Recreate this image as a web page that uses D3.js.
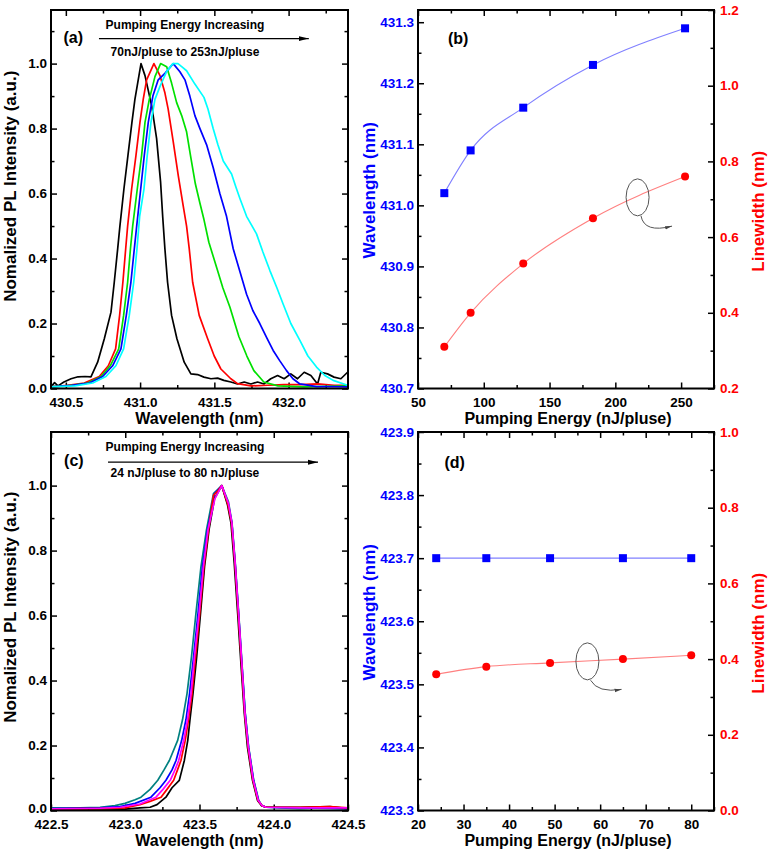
<!DOCTYPE html>
<html><head><meta charset="utf-8">
<script src="https://cdn.jsdelivr.net/npm/d3@7/dist/d3.min.js"></script>
<style>
body{margin:0;background:#fff;}
svg{display:block;}
</style></head><body>
<script>
// ---------------- DATA ----------------
// Panel (a): spectra [wavelength nm, normalized intensity]
const aBlack = [[430.400,0.005],[430.424,0.018],[430.447,0.008],[430.487,0.020],[430.535,0.030],[430.582,0.036],[430.629,0.037],[430.669,0.036],[430.714,0.081],[430.759,0.153],[430.804,0.235],[430.826,0.327],[430.849,0.430],[430.864,0.500],[430.891,0.614],[430.918,0.717],[430.945,0.819],[430.965,0.890],[431.006,1.000],[431.033,0.963],[431.078,0.870],[431.111,0.770],[431.138,0.635],[431.152,0.530],[431.167,0.430],[431.185,0.327],[431.212,0.225],[431.248,0.153],[431.297,0.081],[431.342,0.045],[431.387,0.043],[431.430,0.035],[431.477,0.030],[431.522,0.032],[431.564,0.025],[431.611,0.020],[431.656,0.014],[431.701,0.020],[431.746,0.014],[431.791,0.020],[431.835,0.014],[431.880,0.030],[431.926,0.040],[431.970,0.030],[432.015,0.045],[432.060,0.030],[432.105,0.050],[432.150,0.040],[432.195,0.014],[432.217,0.050],[432.262,0.045],[432.306,0.035],[432.352,0.030],[432.397,0.050]];
const aRed = [[430.400,0.005],[430.512,0.010],[430.624,0.017],[430.725,0.037],[430.786,0.070],[430.835,0.122],[430.862,0.225],[430.884,0.327],[430.903,0.430],[430.916,0.500],[430.943,0.614],[430.972,0.717],[430.999,0.819],[431.021,0.890],[431.044,0.950],[431.093,1.000],[431.134,0.963],[431.167,0.910],[431.189,0.860],[431.223,0.760],[431.257,0.655],[431.290,0.563],[431.313,0.500],[431.331,0.430],[431.354,0.327],[431.398,0.225],[431.455,0.153],[431.499,0.100],[431.544,0.060],[431.611,0.030],[431.656,0.015],[431.746,0.008],[431.860,0.010],[431.968,0.012],[432.082,0.012],[432.195,0.014],[432.306,0.010],[432.397,0.010]];
const aGreen = [[430.400,0.005],[430.535,0.010],[430.647,0.017],[430.737,0.037],[430.799,0.070],[430.856,0.122],[430.889,0.225],[430.916,0.327],[430.935,0.430],[430.950,0.500],[430.981,0.614],[431.010,0.717],[431.033,0.819],[431.062,0.890],[431.100,0.960],[431.138,1.000],[431.179,0.990],[431.212,0.940],[431.246,0.880],[431.280,0.840],[431.313,0.790],[431.342,0.710],[431.372,0.630],[431.403,0.570],[431.430,0.520],[431.463,0.450],[431.490,0.410],[431.517,0.370],[431.557,0.310],[431.605,0.250],[431.665,0.160],[431.719,0.100],[431.766,0.055],[431.833,0.020],[431.928,0.008],[432.103,0.005],[432.399,0.008]];
const aBlue = [[430.400,0.005],[430.541,0.010],[430.658,0.017],[430.748,0.037],[430.815,0.070],[430.871,0.122],[430.907,0.225],[430.938,0.327],[430.961,0.430],[430.977,0.500],[431.004,0.614],[431.028,0.717],[431.055,0.819],[431.086,0.900],[431.122,0.950],[431.167,0.970],[431.223,1.000],[431.268,0.975],[431.302,0.950],[431.335,0.900],[431.369,0.840],[431.403,0.800],[431.448,0.750],[431.492,0.680],[431.537,0.600],[431.582,0.530],[431.627,0.430],[431.672,0.360],[431.717,0.290],[431.759,0.240],[431.806,0.200],[431.854,0.155],[431.896,0.117],[431.941,0.085],[431.986,0.055],[432.029,0.030],[432.076,0.014],[432.188,0.006],[432.278,0.006],[432.397,0.005]];
const aCyan = [[430.400,0.005],[430.562,0.008],[430.681,0.017],[430.770,0.037],[430.837,0.070],[430.889,0.122],[430.927,0.225],[430.957,0.327],[430.979,0.430],[430.997,0.530],[431.026,0.614],[431.048,0.717],[431.073,0.819],[431.100,0.890],[431.134,0.930],[431.179,0.976],[431.221,1.000],[431.255,1.000],[431.282,0.990],[431.313,0.978],[431.369,0.937],[431.430,0.896],[431.457,0.860],[431.492,0.800],[431.524,0.750],[431.560,0.700],[431.616,0.660],[431.645,0.620],[431.672,0.585],[431.717,0.530],[431.784,0.476],[431.827,0.420],[431.874,0.363],[431.921,0.310],[431.963,0.260],[432.015,0.200],[432.076,0.148],[432.130,0.100],[432.188,0.066],[432.244,0.040],[432.300,0.025],[432.397,0.010]];

// Panel (b): pumping energy vs peak wavelength / linewidth
const bEnergy = [70, 90, 130, 183, 253];
const bWavelength = [431.02, 431.09, 431.16, 431.23, 431.29];
const bLinewidth = [0.31, 0.40, 0.53, 0.65, 0.76];

// Panel (c): spectra
const cTeal = [[422.500,0.008],[422.695,0.008],[422.830,0.010],[422.931,0.015],[422.998,0.022],[423.066,0.033],[423.106,0.041],[423.167,0.065],[423.219,0.093],[423.261,0.125],[423.297,0.154],[423.353,0.216],[423.386,0.280],[423.416,0.360],[423.446,0.473],[423.476,0.607],[423.510,0.751],[423.547,0.864],[423.594,0.975],[423.650,1.000],[423.695,0.950],[423.719,0.885],[423.741,0.761],[423.764,0.607],[423.786,0.453],[423.808,0.298],[423.831,0.195],[423.865,0.093],[423.899,0.031],[423.921,0.015],[423.948,0.010],[424.042,0.008],[424.177,0.006],[424.311,0.008],[424.500,0.006]];
const cBlue = [[422.500,0.006],[422.830,0.008],[422.965,0.012],[423.066,0.022],[423.173,0.041],[423.234,0.070],[423.274,0.093],[423.315,0.125],[423.342,0.154],[423.380,0.216],[423.409,0.280],[423.433,0.360],[423.460,0.473],[423.490,0.607],[423.520,0.751],[423.554,0.864],[423.601,0.975],[423.650,1.000],[423.695,0.940],[423.718,0.885],[423.740,0.761],[423.763,0.607],[423.785,0.453],[423.808,0.298],[423.830,0.195],[423.864,0.093],[423.897,0.031],[423.921,0.015],[423.948,0.010],[424.177,0.008],[424.500,0.006]];
const cBlack = [[422.500,0.004],[422.695,0.006],[422.830,0.005],[422.998,0.004],[423.099,0.008],[423.167,0.010],[423.214,0.018],[423.274,0.041],[423.315,0.070],[423.364,0.093],[423.382,0.125],[423.398,0.154],[423.421,0.216],[423.436,0.280],[423.456,0.360],[423.481,0.473],[423.507,0.607],[423.534,0.751],[423.564,0.864],[423.601,0.960],[423.650,1.000],[423.689,0.940],[423.712,0.885],[423.734,0.761],[423.757,0.607],[423.779,0.453],[423.802,0.298],[423.823,0.195],[423.857,0.093],[423.891,0.031],[423.918,0.015],[423.948,0.010],[424.177,0.010],[424.379,0.012],[424.500,0.006]];
const cRed = [[422.500,0.005],[422.830,0.006],[422.998,0.008],[423.099,0.018],[423.167,0.028],[423.241,0.041],[423.281,0.065],[423.326,0.093],[423.352,0.125],[423.375,0.154],[423.404,0.216],[423.426,0.280],[423.450,0.360],[423.473,0.473],[423.502,0.607],[423.530,0.751],[423.561,0.864],[423.594,0.970],[423.625,0.985],[423.650,1.000],[423.692,0.940],[423.716,0.885],[423.739,0.761],[423.761,0.607],[423.783,0.453],[423.805,0.298],[423.827,0.195],[423.860,0.093],[423.894,0.031],[423.921,0.015],[423.948,0.010],[424.177,0.010],[424.379,0.012],[424.500,0.008]];
const cMagenta = [[422.500,0.005],[422.830,0.007],[422.965,0.010],[423.099,0.020],[423.207,0.041],[423.254,0.065],[423.303,0.093],[423.335,0.125],[423.360,0.154],[423.394,0.216],[423.419,0.280],[423.443,0.360],[423.466,0.473],[423.497,0.607],[423.526,0.751],[423.557,0.864],[423.604,0.960],[423.650,1.000],[423.695,0.945],[423.718,0.885],[423.740,0.761],[423.763,0.607],[423.785,0.453],[423.806,0.298],[423.829,0.195],[423.862,0.093],[423.896,0.031],[423.921,0.015],[423.948,0.010],[424.177,0.008],[424.500,0.008]];

// Panel (d)
const dEnergy = [24, 35, 49, 65, 80];
const dWavelength = [423.7, 423.7, 423.7, 423.7, 423.7];
const dLinewidth = [0.36, 0.38, 0.39, 0.40, 0.41];

// Tick values
const aXMajor = [430.5, 431.0, 431.5, 432.0];
const aXMinor = [430.75, 431.25, 431.75, 432.25];
const cXMajor = [422.5, 423.0, 423.5, 424.0, 424.5];
const cXMinor = [422.75, 423.25, 423.75, 424.25];
const specYMajor = [0.0, 0.2, 0.4, 0.6, 0.8, 1.0];
const specYMinor = [0.1, 0.3, 0.5, 0.7, 0.9, 1.1];
const bXMajor = [50, 100, 150, 200, 250];
const bXMinor = [75, 125, 175, 225, 275];
const bYLMajor = [430.7, 430.8, 430.9, 431.0, 431.1, 431.2, 431.3];
const bYLMinor = [430.75, 430.85, 430.95, 431.05, 431.15, 431.25];
const bYRMajor = [0.2, 0.4, 0.6, 0.8, 1.0, 1.2];
const bYRMinor = [0.3, 0.5, 0.7, 0.9, 1.1];
const dXMajor = [20, 30, 40, 50, 60, 70, 80];
const dXMinor = [25, 35, 45, 55, 65, 75, 85];
const dYLMajor = [423.3, 423.4, 423.5, 423.6, 423.7, 423.8, 423.9];
const dYLMinor = [423.35, 423.45, 423.55, 423.65, 423.75, 423.85];
const dYRMajor = [0.0, 0.2, 0.4, 0.6, 0.8, 1.0];
const dYRMinor = [0.1, 0.3, 0.5, 0.7, 0.9];

// ---------------- DRAW ----------------
const FONT = "Arial, 'Liberation Sans', sans-serif";
const BLUE = "#0000ff", RED = "#ff0000";
const TICK_FS = 13.5;
const svg = d3.select("body").append("svg").attr("width", 771).attr("height", 854);
svg.append("rect").attr("width", 771).attr("height", 854).attr("fill", "#fff");
const defs = svg.append("defs");
defs.append("marker").attr("id", "arrBlack").attr("markerUnits", "userSpaceOnUse")
  .attr("viewBox", "0 0 10 6").attr("refX", 10).attr("refY", 3)
  .attr("markerWidth", 10).attr("markerHeight", 6).attr("orient", "auto")
  .append("path").attr("d", "M0,0.5 L10,3 L0,5.5 Z").attr("fill", "#000");
defs.append("marker").attr("id", "arrGray").attr("markerUnits", "userSpaceOnUse")
  .attr("viewBox", "0 0 10 6").attr("refX", 10).attr("refY", 3)
  .attr("markerWidth", 7).attr("markerHeight", 5).attr("orient", "auto")
  .append("path").attr("d", "M0,0.5 L10,3 L0,5.5 Z").attr("fill", "#444");

const boxes = {
  a: {l: 51, r: 348, t: 10, b: 388.5},
  b: {l: 418, r: 714, t: 10, b: 388.5},
  c: {l: 51, r: 348, t: 432, b: 810.5},
  d: {l: 418, r: 714, t: 432, b: 810.5}
};

function addAxis(g, axis, transform, values, fmt, pad, size, color) {
  const a = g.append("g").attr("transform", transform)
    .call(axis.tickValues(values).tickSize(-size).tickPadding(pad).tickFormat(fmt ? fmt : () => ""));
  a.select(".domain").remove();
  a.selectAll("line").attr("stroke", "#000").attr("stroke-width", 1.5);
  a.selectAll("text").attr("font-family", FONT).attr("font-weight", "bold")
    .attr("font-size", TICK_FS).attr("fill", color || "#000");
  return a;
}

function title(txt, x, y, rot, color, size) {
  svg.append("text").attr("transform", `translate(${x},${y}) rotate(${rot})`)
    .attr("text-anchor", "middle").attr("font-family", FONT).attr("font-weight", "bold")
    .attr("font-size", size || 17).attr("fill", color || "#000").text(txt);
}

function label(txt, x, y, anchor, size) {
  svg.append("text").attr("x", x).attr("y", y).attr("text-anchor", anchor || "start")
    .attr("font-family", FONT).attr("font-weight", "bold").attr("font-size", size || 12)
    .attr("fill", "#000").text(txt);
}

function panel(p) {
  const box = p.box;
  const x = d3.scaleLinear().domain(p.xDomain).range([box.l, box.r]);
  const yL = d3.scaleLinear().domain(p.yDomain).range([box.b, box.t]);
  const yR = p.yRDomain ? d3.scaleLinear().domain(p.yRDomain).range([box.b, box.t]) : yL;
  const g = svg.append("g");
  const f1 = d3.format(".1f");
  // bottom
  addAxis(g, d3.axisBottom(x), `translate(0,${box.b})`, p.xMajor, p.xFmt, 8.5, 6);
  addAxis(g, d3.axisBottom(x), `translate(0,${box.b})`, p.xMinor, null, 0, 3.5);
  // top mirror
  addAxis(g, d3.axisTop(x), `translate(0,${box.t})`, p.xMajor, null, 0, 6);
  addAxis(g, d3.axisTop(x), `translate(0,${box.t})`, p.xMinor, null, 0, 3.5);
  // left
  const la = addAxis(g, d3.axisLeft(yL), `translate(${box.l},0)`, p.yMajor, f1, 4, 6, p.yLColor);
  la.selectAll("text").attr("dy", "0.3em");
  if (p.liftFirst) la.selectAll("text").filter((d, i) => i === 0).attr("dy", "0.12em");
  addAxis(g, d3.axisLeft(yL), `translate(${box.l},0)`, p.yMinor, null, 0, 3.5);
  // right
  const ra = addAxis(g, d3.axisRight(yR), `translate(${box.r},0)`, p.yRMajor || p.yMajor, p.yRDomain ? f1 : null, 6, 6, p.yRColor);
  ra.selectAll("text").attr("dy", "0.3em");
  addAxis(g, d3.axisRight(yR), `translate(${box.r},0)`, p.yRMinor || p.yMinor, null, 0, 3.5);
  return {x, yL, yR, g};
}

function curves(P, list) {
  const line = d3.line().x(d => P.x(d[0])).y(d => P.yL(d[1]));
  list.forEach(([data, color]) => {
    P.g.append("path").datum(data).attr("d", line).attr("fill", "none")
      .attr("stroke", color).attr("stroke-width", 1.7).attr("stroke-linejoin", "round");
  });
}

function frame(box) {
  svg.append("rect").attr("x", box.l).attr("y", box.t).attr("width", box.r - box.l)
    .attr("height", box.b - box.t).attr("fill", "none").attr("stroke", "#000").attr("stroke-width", 2);
}

function arrowNote(P, x1, x2, y, t1, t2, tx, ty1, ty2, tag, tagx, tagy) {
  P.g.append("line").attr("x1", P.x(x1)).attr("x2", P.x(x2)).attr("y1", P.yL(y)).attr("y2", P.yL(y))
    .attr("stroke", "#000").attr("stroke-width", 1.2).attr("marker-end", "url(#arrBlack)");
  label(t1, P.x(tx), P.yL(ty1), "middle", 12);
  label(t2, P.x(tx), P.yL(ty2), "middle", 12);
  label(tag, P.x(tagx), P.yL(tagy), "start", 16);
}

function dual(P, energy, wl, lw) {
  const lineL = d3.line().curve(d3.curveMonotoneX).x((d, i) => P.x(energy[i])).y(d => P.yL(d));
  const lineR = d3.line().curve(d3.curveMonotoneX).x((d, i) => P.x(energy[i])).y(d => P.yR(d));
  P.g.append("path").datum(wl).attr("d", lineL).attr("fill", "none").attr("stroke", "#8080ff").attr("stroke-width", 1.1);
  P.g.append("path").datum(lw).attr("d", lineR).attr("fill", "none").attr("stroke", "#ff8080").attr("stroke-width", 1.1);
  P.g.selectAll(null).data(wl).enter().append("rect")
    .attr("x", (d, i) => P.x(energy[i]) - 4).attr("y", d => P.yL(d) - 4)
    .attr("width", 8).attr("height", 8).attr("fill", BLUE);
  P.g.selectAll(null).data(lw).enter().append("circle")
    .attr("cx", (d, i) => P.x(energy[i])).attr("cy", d => P.yR(d)).attr("r", 4).attr("fill", RED);
}

function ellipseNote(P, cx, cy, ax, ay, bx, by, qx, qy) {
  P.g.append("ellipse").attr("cx", P.x(cx)).attr("cy", P.yR(cy)).attr("rx", 11.5).attr("ry", 18.5)
    .attr("fill", "none").attr("stroke", "#555").attr("stroke-width", 1);
  P.g.append("path")
    .attr("d", `M${P.x(ax)},${P.yR(ay)} Q${P.x(qx)},${P.yR(qy)} ${P.x(bx)},${P.yR(by)}`)
    .attr("fill", "none").attr("stroke", "#555").attr("stroke-width", 1).attr("marker-end", "url(#arrGray)");
}

// Panel (a)
const PA = panel({box: boxes.a, xDomain: [430.4, 432.4], yDomain: [0, 1.165],
  xMajor: aXMajor, xMinor: aXMinor, yMajor: specYMajor, yMinor: specYMinor, xFmt: d3.format(".1f")});
curves(PA, [[aBlack, "#000000"], [aRed, "#ff0000"], [aGreen, "#00e000"], [aBlue, "#0000ff"], [aCyan, "#00ffff"]]);
arrowNote(PA, 430.723, 432.136, 1.077, "Pumping Energy Increasing", "70nJ/pluse to 253nJ/pluse",
  431.302, 1.105, 1.022, "(a)", 430.484, 1.062);
frame(boxes.a);

// Panel (b)
const PB = panel({box: boxes.b, xDomain: [50, 275], yDomain: [430.7, 431.32], yRDomain: [0.2, 1.2],
  xMajor: bXMajor, xMinor: bXMinor, yMajor: bYLMajor, yMinor: bYLMinor, yRMajor: bYRMajor, yRMinor: bYRMinor,
  xFmt: d3.format("d"), yLColor: BLUE, yRColor: RED});
dual(PB, bEnergy, bWavelength, bLinewidth);
ellipseNote(PB, 216.9, 0.705, 219.5, 0.656, 243.1, 0.629, 222, 0.61);
label("(b)", PB.x(72.8), PB.yR(1.110), "start", 16);
frame(boxes.b);

// Panel (c)
const PC = panel({box: boxes.c, xDomain: [422.5, 424.5], yDomain: [0, 1.165],
  xMajor: cXMajor, xMinor: cXMinor, yMajor: specYMajor, yMinor: specYMinor, xFmt: d3.format(".1f"), liftFirst: true});
curves(PC, [[cTeal, "#008080"], [cBlue, "#0000ff"], [cBlack, "#000000"], [cRed, "#ff0000"], [cMagenta, "#ff00ff"]]);
arrowNote(PC, 422.884, 424.298, 1.072, "Pumping Energy Increasing", "24 nJ/pluse to 80 nJ/pluse",
  423.402, 1.107, 1.025, "(c)", 422.588, 1.059);
frame(boxes.c);

// Panel (d)
const PD = panel({box: boxes.d, xDomain: [20, 85], yDomain: [423.3, 423.9], yRDomain: [0, 1.0],
  xMajor: dXMajor, xMinor: dXMinor, yMajor: dYLMajor, yMinor: dYLMinor, yRMajor: dYRMajor, yRMinor: dYRMinor,
  xFmt: d3.format("d"), yLColor: BLUE, yRColor: RED});
dual(PD, dEnergy, dWavelength, dLinewidth);
ellipseNote(PD, 57.2, 0.394, 57.9, 0.344, 64.7, 0.320, 59.5, 0.31);
label("(d)", PD.x(25.8), PD.yR(0.906), "start", 16);
frame(boxes.d);

// Axis titles
title("Wavelength (nm)", (boxes.a.l + boxes.a.r) / 2, boxes.a.b + 35, 0, "#000", 16);
title("Pumping Energy (nJ/pluse)", (boxes.b.l + boxes.b.r) / 2 + 2, boxes.b.b + 35, 0, "#000", 16);
title("Wavelength (nm)", (boxes.c.l + boxes.c.r) / 2, boxes.c.b + 35, 0, "#000", 16);
title("Pumping Energy (nJ/pluse)", (boxes.d.l + boxes.d.r) / 2 + 2, boxes.d.b + 35, 0, "#000", 16);
title("Nomalized PL Intensity (a.u.)", 16, (boxes.a.t + boxes.a.b) / 2 - 13, -90);
title("Nomalized PL Intensity (a.u.)", 16, (boxes.c.t + boxes.c.b) / 2 - 14, -90);
title("Wavelength (nm)", 375, (boxes.b.t + boxes.b.b) / 2 - 9, -90, BLUE);
title("Wavelength (nm)", 375, (boxes.d.t + boxes.d.b) / 2 - 9, -90, BLUE);
title("Linewidth (nm)", 764, (boxes.b.t + boxes.b.b) / 2 + 12, -90, RED);
title("Linewidth (nm)", 764, (boxes.d.t + boxes.d.b) / 2 + 12, -90, RED);
</script>
</body></html>
